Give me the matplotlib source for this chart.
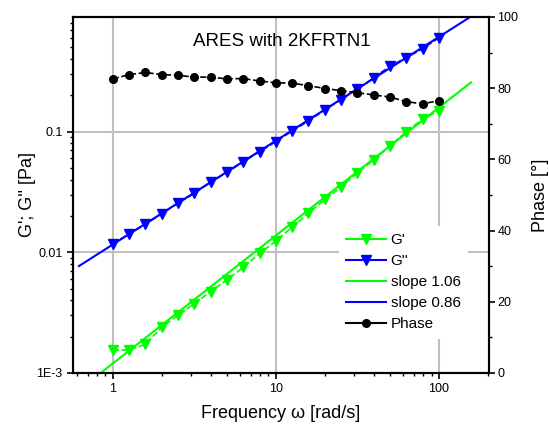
import numpy as np
import matplotlib.pyplot as plt

plt.rcParams['font.family'] = ['Liberation Sans', 'DejaVu Sans']

# frequency (rad/s), 10 points per decade
freq = [1.0, 1.26, 1.58, 2.0, 2.51, 3.16, 3.98, 5.01, 6.31, 7.94, 10.0,
        12.6, 15.8, 20.0, 25.1, 31.6, 39.8, 50.1, 63.1, 79.4, 100.0]

g_storage = [1.55e-3, 1.55e-3, 1.73e-3, 2.40e-3, 3.01e-3, 3.76e-3, 4.73e-3,
             5.92e-3, 7.5e-3, 9.8e-3, 0.0124, 0.0162, 0.0211, 0.0274, 0.0348,
             0.0455, 0.0581, 0.076, 0.100, 0.127, 0.149]

g_loss = [0.01175, 0.01422, 0.01702, 0.0209, 0.0256, 0.0307, 0.0383, 0.0459,
          0.0562, 0.0681, 0.0826, 0.1014, 0.1223, 0.1517, 0.1837, 0.2255,
          0.2785, 0.348, 0.409, 0.486, 0.600]

phase = [82.6, 83.8, 84.4, 83.8, 83.6, 83.1, 83.1, 82.6, 82.7, 82.0, 81.5,
         81.4, 80.7, 79.9, 79.3, 78.7, 78.1, 77.5, 76.2, 75.6, 76.5]

# power law fits: G = a * w^n
fit_gs = (0.0012, 1.06)
fit_gl = (0.0116, 0.86)
fit_range = (0.62, 157)

fig = plt.figure(figsize=(5.49, 4.30), dpi=100)
ax = fig.add_axes([0.133, 0.1326, 0.758, 0.828])
ax2 = ax.twinx()

green = '#00ff00'
blue = '#0000ff'

wf = np.logspace(np.log10(fit_range[0]), np.log10(fit_range[1]), 50)
ax.plot(wf, fit_gs[0] * wf ** fit_gs[1], color=green, lw=1.5, zorder=2)
ax.plot(wf, fit_gl[0] * wf ** fit_gl[1], color=blue, lw=1.5, zorder=2)

ax.plot(freq, g_storage, color=green, ls='--', lw=1.2, marker='v', ms=7.5, zorder=3)
ax.plot(freq, g_loss, color=blue, ls='--', lw=1.2, marker='v', ms=7.5, zorder=3)
ax2.plot(freq, phase, color='black', ls='--', lw=1.2, marker='o', ms=5.5)

ax.set_xscale('log')
ax.set_yscale('log')
ax.set_xlim(0.57, 203)
ax.set_ylim(1e-3, 0.89)
ax2.set_ylim(0, 100)

ax.set_xticks([1, 10, 100])
ax.set_xticklabels(['1', '10', '100'])
ax.set_yticks([1e-3, 0.01, 0.1])
ax.set_yticklabels(['1E-3', '0.01', '0.1'])
ax2.set_yticks([0, 20, 40, 60, 80, 100])
ax2.set_yticks(np.arange(10, 100, 20), minor=True)

ax.grid(True, which='major', color='#c0c0c0', lw=1.5)
ax.set_axisbelow(True)

for a in (ax, ax2):
    a.tick_params(which='major', direction='out', length=4, width=1.2, labelsize=9)
    a.tick_params(which='minor', direction='out', length=2.5, width=1.0)
    for s in a.spines.values():
        s.set_linewidth(1.5)
ax.tick_params(top=False, right=False, which='both')
ax2.tick_params(axis='y', pad=2)

ax.set_xlabel('Frequency ω [rad/s]', fontsize=13, labelpad=7)
ax.set_ylabel("G'; G'' [Pa]", fontsize=13, labelpad=0)
ax2.set_ylabel('Phase [°]', fontsize=13, labelpad=10)

ax.text(0.502, 0.93, 'ARES with 2KFRTN1', transform=ax.transAxes,
        ha='center', va='center', fontsize=13.5)

handles = [
    plt.Line2D([], [], color=green, lw=1.5, marker='v', ms=7.5),
    plt.Line2D([], [], color=blue, lw=1.5, marker='v', ms=7.5),
    plt.Line2D([], [], color=green, lw=1.5),
    plt.Line2D([], [], color=blue, lw=1.5),
    plt.Line2D([], [], color='black', lw=1.5, marker='o', ms=5.5),
]
labels = ["G'", "G''", 'slope 1.06', 'slope 0.86', 'Phase']
leg = ax2.legend(handles, labels, loc='upper left', bbox_to_anchor=(0.62, 0.435),
                 fontsize=11, frameon=True, facecolor='white', edgecolor='none',
                 framealpha=1, handlelength=2.6, handletextpad=0.3,
                 labelspacing=0.45, borderpad=0.5)

fig.savefig('out.png', dpi=100)
